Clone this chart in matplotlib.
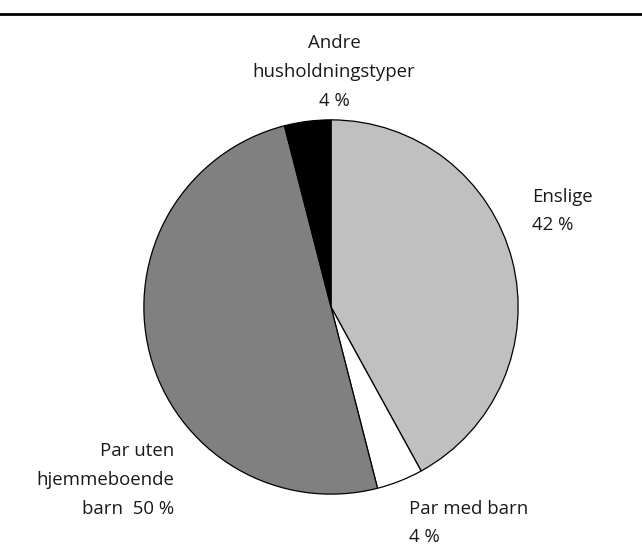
import matplotlib.pyplot as plt
from matplotlib.lines import Line2D

# Household types, share of total (%)
labels = ["Enslige", "Par med barn", "Par uten hjemmeboende barn", "Andre husholdningstyper"]
shares = [42, 4, 50, 4]
colors = ["#c0c0c0", "#ffffff", "#808080", "#000000"]

W, H = 642, 557
fig = plt.figure(figsize=(W / 100, H / 100), dpi=100)
plt.rcParams["font.family"] = ["Open Sans", "DejaVu Sans"]

# pie placed in pixel terms: centre (331, 307), radius 189
cx, cy, r = 331, 307, 189
ax = fig.add_axes([(cx - r) / W, (H - cy - r) / H, 2 * r / W, 2 * r / H])
ax.pie(shares, colors=colors, startangle=90, counterclock=False, radius=1,
       wedgeprops=dict(edgecolor="black", linewidth=0.9))
ax.set_xlim(-1.01, 1.01)
ax.set_ylim(-1.01, 1.01)
ax.axis("off")

# rule across the top
fig.add_artist(Line2D([0, 1], [1 - 14 / H, 1 - 14 / H], color="black", linewidth=2.0,
                      transform=fig.transFigure))


def px(x, y):
    return x / W, 1 - y / H


fs = 13.4
ls = 1.75
fig.text(*px(334, 72), "Andre\nhusholdningstyper\n4 %", ha="center", va="center",
         fontsize=fs, linespacing=ls, color="#1a1a1a")
fig.text(*px(532, 211), "Enslige\n42 %", ha="left", va="center",
         fontsize=fs, linespacing=ls, color="#1a1a1a")
fig.text(*px(409, 523), "Par med barn\n4 %", ha="left", va="center",
         fontsize=fs, linespacing=ls, color="#1a1a1a")
fig.text(*px(174, 480), "Par uten\nhjemmeboende\nbarn  50 %", ha="right", va="center",
         fontsize=fs, linespacing=ls, color="#1a1a1a", multialignment="right")

fig.savefig("out.png", dpi=100)
